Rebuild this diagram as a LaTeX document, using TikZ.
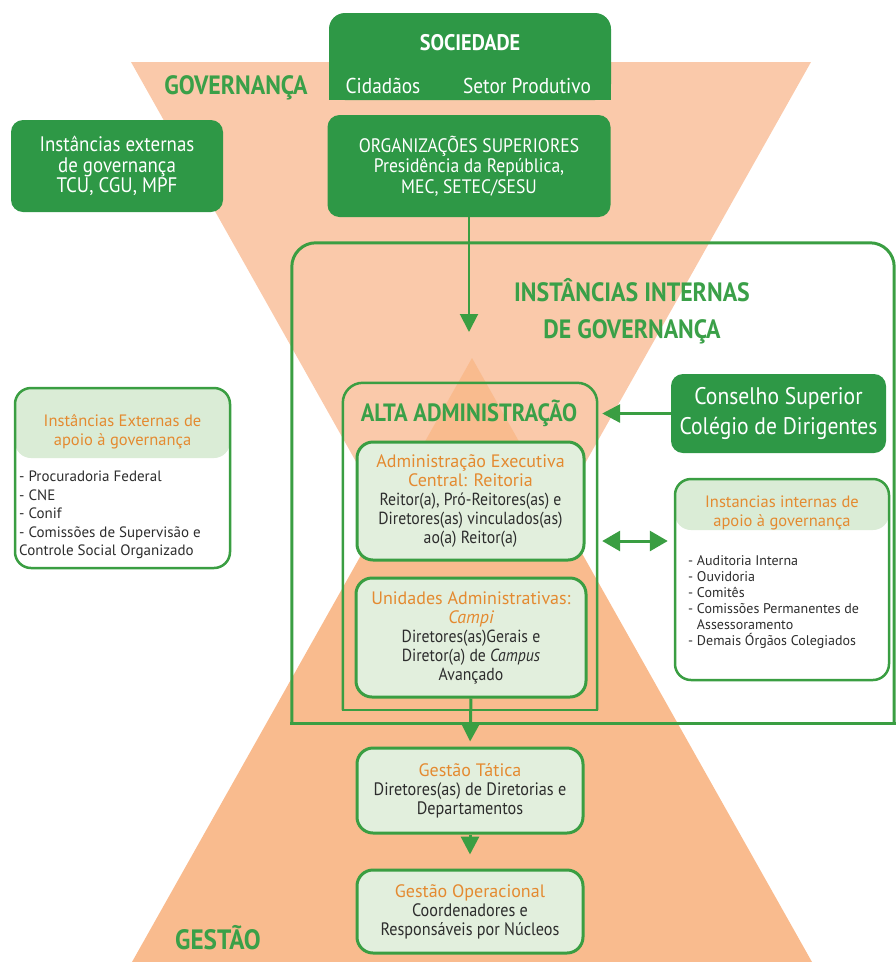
\documentclass[tikz,border=0pt]{standalone}
\usepackage{fontspec}
\setmainfont{PT Sans}[FakeStretch=0.9]
\newfontfamily\plainsans{PT Sans}
\usepackage{tikz}
\usetikzlibrary{arrows.meta, positioning, calc}
\definecolor{boxgreen}{RGB}{46, 152, 70}
\definecolor{linegreen}{RGB}{58, 158, 66}
\definecolor{titlegreen}{RGB}{58, 160, 72}
\definecolor{lightgreen}{RGB}{226, 239, 221}
\definecolor{headgreen}{RGB}{218, 236, 214}
\definecolor{orangetxt}{RGB}{228, 138, 48}
\definecolor{salmontop}{RGB}{250, 201, 170}
\definecolor{salmonbot}{RGB}{249, 187, 142}
\definecolor{bodytxt}{RGB}{45, 45, 45}
\newcommand{\ot}[1]{{\plainsans\fontsize{18}{18}\selectfont\textcolor{orangetxt}{#1}}}

\begin{document}
\begin{tikzpicture}[x=1pt, y=-1pt,
  darkbox/.style={fill=boxgreen, text=white, rounded corners=12pt, align=center, inner sep=0pt, font=\fontsize{19.5}{20.5}\selectfont},
  lightbox/.style={draw=linegreen, line width=3pt, fill=lightgreen, rounded corners=16pt, align=center, text=bodytxt, inner sep=0pt, font=\fontsize{17.5}{19}\selectfont},
  apoiobox/.style={draw=linegreen, line width=2.5pt, fill=white, rounded corners=16pt, inner sep=0pt,
    path picture={\fill[headgreen] (path picture bounding box.north west) rectangle ([yshift=-#1]path picture bounding box.north east);}},
  headtxt/.style={text=orangetxt, align=center, inner sep=0pt, font=\plainsans\fontsize{16.5}{19}\selectfont},
  listtxt/.style={text=bodytxt, align=left, inner sep=0pt, anchor=north west},
  bigtitle/.style={text=titlegreen, align=center, inner sep=0pt, font=\fontsize{26.5}{37}\selectfont\bfseries},
  frame/.style={draw=linegreen, line width=3pt},
  flow/.style={draw=linegreen, line width=3pt, -{Triangle[length=18pt, width=18pt]}},
]
  \useasboundingbox (0,0) rectangle (896,962);

  % Hourglass: governance above, management below
  \fill[salmontop] (131,62) -- (811,62) -- (471,666) -- cycle;
  \fill[salmonbot] (472,358) -- (812,962) -- (132,962) -- cycle;

  % Society
  \node (soc) [darkbox, rounded corners=16pt, minimum width=282pt, minimum height=87pt] at (470,56.5) {};
  \fill[boxgreen] (soc.west) rectangle (soc.south east);
  \node (socT) [text=white, font=\fontsize{22.5}{24}\selectfont\bfseries] at (470,43) {SOCIEDADE};
  \node (cid) [text=white, font=\fontsize{21.5}{22}\selectfont] at (383,86) {Cidadãos};
  \node (setor) [text=white, font=\fontsize{21.5}{22}\selectfont] at (527,86) {Setor Produtivo};

  \node (gov) [bigtitle] at (236,88) {GOVERNANÇA};

  % External bodies and superior organisations
  \node (extgov) [darkbox, font=\fontsize{21}{20.5}\selectfont, minimum width=212pt, minimum height=92pt] at (117,166) {Instâncias externas\\de governança\\TCU, CGU, MPF};
  \node (org) [darkbox, minimum width=283pt, minimum height=102pt] at (469,166) {ORGANIZAÇÕES SUPERIORES\\Presidência da República,\\MEC, SETEC/SESU};

  % Internal governance frame
  \node (intbox) [minimum width=602pt, minimum height=480pt] at (593,483) {};
  \draw[frame, rounded corners=24pt] (intbox.south west) |- (intbox.north) -| (intbox.south east);
  \draw[frame, line cap=rect] (intbox.south west) -- (intbox.south east);
  \node (intT) [bigtitle] at (632,311) {INSTÂNCIAS INTERNAS\\DE GOVERNANÇA};
  \coordinate (orgtip) at (469,332);
  \draw[flow, line width=2pt] (org.south) -- (orgtip);

  % Top administration
  \node (alta) [minimum width=254pt, minimum height=327pt] at (470,546.5) {};
  \draw[frame, line width=2.5pt, rounded corners=20pt] (alta.south west) |- (alta.north) -| (alta.south east);
  \draw[frame, line width=2.5pt, line cap=rect] (alta.south west) -- (alta.south east);
  \node (altaT) [bigtitle, font=\fontsize{25}{26}\selectfont\bfseries] at (469,413) {ALTA ADMINISTRAÇÃO};

  \node (admexec) [lightbox, minimum width=227pt, minimum height=118pt] at (470.5,501) {\ot{Administração Executiva}\\\ot{Central: Reitoria}\\Reitor(a), Pró-Reitores(as) e\\Diretores(as) vinculados(as)\\ao(a) Reitor(a)};
  \node (unid) [lightbox, minimum width=230pt, minimum height=119pt] at (471,637.5) {\ot{Unidades Administrativas:}\\\ot{\itshape Campi}\\Diretores(as)Gerais e\\Diretor(a) de \textit{Campus}\\Avançado};

  % Council and support bodies
  \node (cons) [darkbox, font=\fontsize{24}{30}\selectfont, minimum width=215pt, minimum height=79pt] at (778.5,413.5) {Conselho Superior\\Colégio de Dirigentes};
  \draw[flow, shorten >=5pt] (cons.west) -- (cons.west -| alta.east);

  \node (intap) [apoiobox=51pt, minimum width=214pt, minimum height=201pt] at (782,579.5) {};
  \node (intapT) [headtxt] at (782,512.5) {Instancias internas de\\apoio à governança};
  \node (intapL) [listtxt, font=\plainsans\fontsize{14}{16}\selectfont] at (688,555) {- Auditoria Interna\\- Ouvidoria\\- Comitês\\- Comissões Permanentes de\\\phantom{- }Assessoramento\\- Demais Órgãos Colegiados};
  \coordinate (dblrow) at (640,541);
  \draw[flow, {Triangle[length=18pt, width=20pt]}-{Triangle[length=18pt, width=20pt]}, shorten <=5pt, shorten >=6pt] (alta.east |- dblrow) -- (intap.west |- dblrow);

  \node (extap) [apoiobox=70pt, minimum width=215pt, minimum height=180pt] at (122.5,478) {};
  \node (extapT) [headtxt] at (122.5,432) {Instâncias Externas de\\apoio à governança};
  \node (extapL) [listtxt, font=\plainsans\fontsize{15}{18.5}\selectfont] at (19,471) {- Procuradoria Federal\\- CNE\\- Conif\\- Comissões de Supervisão e\\Controle Social Organizado};

  % Management levels
  \node (tat) [lightbox, font=\fontsize{18}{19}\selectfont, minimum width=226pt, minimum height=85pt] at (470,790.5) {\ot{Gestão Tática}\\Diretores(as) de Diretorias e\\Departamentos};
  \node (op) [lightbox, font=\fontsize{18}{19}\selectfont, minimum width=226pt, minimum height=83pt] at (470,911.5) {\ot{Gestão Operacional}\\Coordenadores e\\Responsáveis por Núcleos};
  \draw[flow, shorten >=5pt] (unid.south) -- (tat.north);
  \draw[flow, shorten >=14pt] (tat.south) -- (op.north);

  \node (gest) [bigtitle, font=\fontsize{28}{30}\selectfont\bfseries] at (218,938) {GESTÃO};
\end{tikzpicture}
\end{document}
